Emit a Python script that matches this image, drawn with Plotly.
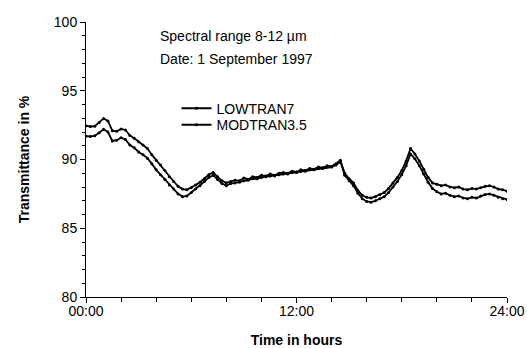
import plotly.graph_objects as go

hours = [i * 0.25 for i in range(97)]

lowtran7 = [
    92.45, 92.40, 92.42, 92.70, 92.98, 92.80, 92.10, 92.05, 92.22, 92.15,
    91.75, 91.55, 91.30, 91.05, 90.80, 90.35, 89.95, 89.60, 89.20, 88.75,
    88.40, 88.05, 87.85, 87.80, 87.95, 88.15, 88.35, 88.60, 88.90, 89.05,
    88.75, 88.45, 88.30, 88.40, 88.50, 88.45, 88.65, 88.55, 88.75, 88.70,
    88.85, 88.80, 88.95, 88.85, 89.00, 89.05, 89.00, 89.15, 89.10, 89.25,
    89.20, 89.35, 89.30, 89.45, 89.40, 89.55, 89.50, 89.70, 89.95, 89.00,
    88.60, 88.30, 87.75, 87.40, 87.25, 87.20, 87.30, 87.45, 87.60, 87.90,
    88.30, 88.70, 89.20, 89.90, 90.80, 90.40, 89.90, 89.30, 88.70, 88.30,
    88.20, 88.10, 88.15, 88.00, 87.95, 88.00, 87.85, 87.80, 87.90, 87.85,
    87.95, 88.05, 88.10, 88.00, 87.85, 87.80, 87.70,
]

modtran35 = [
    91.70, 91.68, 91.72, 91.95, 92.20, 92.00, 91.35, 91.40, 91.58, 91.45,
    91.05, 90.85, 90.55, 90.35, 90.10, 89.70, 89.25, 88.90, 88.55, 88.15,
    87.85, 87.50, 87.30, 87.35, 87.60, 87.85, 88.10, 88.40, 88.70, 88.85,
    88.55, 88.25, 88.10, 88.25, 88.30, 88.35, 88.45, 88.50, 88.60, 88.60,
    88.70, 88.75, 88.80, 88.80, 88.90, 88.95, 88.95, 89.05, 89.05, 89.15,
    89.15, 89.25, 89.25, 89.35, 89.35, 89.45, 89.45, 89.60, 89.85, 88.85,
    88.45, 88.10, 87.55, 87.15, 86.95, 86.90, 87.00, 87.15, 87.30, 87.60,
    88.00, 88.40, 88.90, 89.55, 90.40, 90.05, 89.55, 88.95, 88.35, 87.90,
    87.65, 87.50, 87.55, 87.40, 87.30, 87.35, 87.20, 87.15, 87.25, 87.20,
    87.35, 87.45, 87.50, 87.40, 87.25, 87.15, 87.10,
]

x_tickvals = [0, 12, 24]
x_ticktext = ["00:00", "12:00", "24:00"]
y_tickvals = [80, 85, 90, 95, 100]

FONT = "Liberation Sans, Arial, sans-serif"

fig = go.Figure()
fig.add_trace(go.Scatter(
    x=hours, y=lowtran7, name="LOWTRAN7", mode="lines+markers", legend="legend",
    line=dict(color="black", width=1.8), marker=dict(color="black", size=3),
))
fig.add_trace(go.Scatter(
    x=hours, y=modtran35, name="MODTRAN3.5", mode="lines+markers", legend="legend2",
    line=dict(color="black", width=1.8), marker=dict(color="black", size=3),
))

leg_common = dict(xanchor="left", yanchor="middle", bgcolor="rgba(0,0,0,0)",
                  font=dict(size=14, family=FONT), itemwidth=30)

fig.update_layout(
    width=527, height=348,
    margin=dict(l=86, r=20, t=22, b=51, autoexpand=False),
    paper_bgcolor="white", plot_bgcolor="white",
    font=dict(family=FONT, size=14, color="black"),
    showlegend=True,
    legend=dict(x=0.215, y=0.685, **leg_common),
    legend2=dict(x=0.215, y=0.625, **leg_common),
    annotations=[
        dict(text="Spectral range 8-12 µm", x=0.170, y=0.948, xref="paper", yref="paper",
             xanchor="left", yanchor="middle", showarrow=False, font=dict(size=14, family=FONT)),
        dict(text="Date: 1 September 1997", x=0.170, y=0.866, xref="paper", yref="paper",
             xanchor="left", yanchor="middle", showarrow=False, font=dict(size=14, family=FONT)),
    ],
)

fig.update_xaxes(
    range=[0, 24], tickvals=x_tickvals, ticktext=x_ticktext, automargin=False,
    showline=True, linecolor="black", linewidth=1, mirror=False,
    ticks="outside", ticklen=5, tickcolor="black", showgrid=False, zeroline=False,
    ticklabelstandoff=-4,
    minor=dict(dtick=2, tick0=0, ticks="outside", ticklen=4, tickcolor="black", showgrid=False),
    title=dict(text="<b>Time in hours</b>", font=dict(size=14, family=FONT), standoff=19),
    tickfont=dict(size=14, family=FONT),
)
fig.update_yaxes(
    range=[80, 100], tickvals=y_tickvals, automargin=False,
    showline=True, linecolor="black", linewidth=1, mirror=False,
    ticks="outside", ticklen=5, tickcolor="black", showgrid=False, zeroline=False,
    minor=dict(dtick=1, tick0=80, ticks="outside", ticklen=3, tickcolor="black", showgrid=False),
    title=dict(text="<b>Transmittance in %</b>", font=dict(size=14, family=FONT), standoff=20),
    tickfont=dict(size=14, family=FONT),
)

fig.write_html(
    "out.html",
    config={"displayModeBar": False},
    post_script="document.body.style.margin='0';document.body.style.overflow='hidden';",
)
